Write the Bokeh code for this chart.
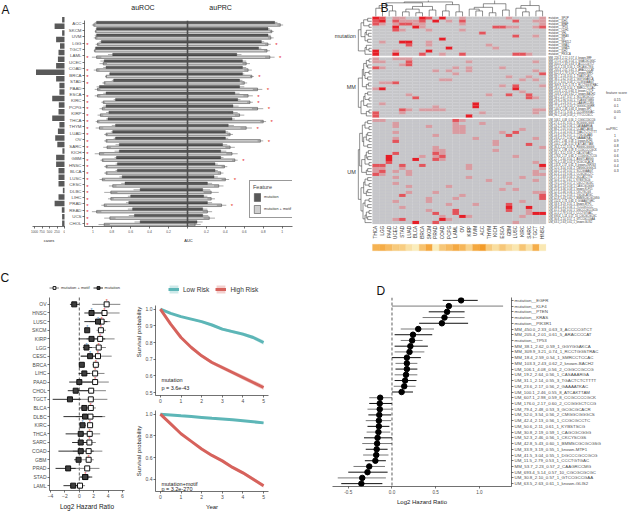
import math
from bokeh.plotting import figure
from bokeh.models import (ColumnDataSource, FactorRange, Range1d, Span, Label, Legend, LegendItem,
                          FixedTicker, CustomJSTickFormatter, NumeralTickFormatter, LinearAxis)
from bokeh.transform import dodge
from bokeh.layouts import row, column
from bokeh.embed import file_html
from bokeh.resources import INLINE
from bokeh.core.properties import value

FONT = "Liberation Sans"

# ---------------- Panel A data ----------------
CATS_A = ["ACC", "SKCM", "UVM", "LGG", "TGCT", "LAML", "UCEC", "COAD", "BRCA", "STAD", "PAAD", "ESCA",
          "KIRC", "PCPG", "KIRP", "THCA", "THYM", "LUAD", "OV", "SARC", "KICH", "GBM", "HNSC", "BLCA",
          "LUSC", "CESC", "DLBC", "LIHC", "PRAD", "READ", "UCS", "CHOL"]
CASES = [80, 330, 80, 280, 150, 200, 220, 280, 950, 280, 170, 170, 410, 190, 200, 410, 170, 220, 310,
         240, 70, 280, 280, 200, 200, 200, 55, 200, 330, 90, 80, 80]
ROC_MUT = [0.96, 0.96, 0.96, 0.91, 0.97, 0.79, 0.88, 0.86, 0.82, 0.78, 0.93, 0.86, 0.76, 0.86, 0.83, 0.84,
           0.76, 0.79, 0.76, 0.72, 0.72, 0.75, 0.74, 0.74, 0.69, 0.66, 0.50, 0.60, 0.62, 0.58, 0.56, 0.50]
ROC_MOTIF = [0.99, 0.97, 0.97, 0.95, 0.98, 0.96, 0.89, 0.96, 0.86, 0.88, 0.95, 0.95, 0.89, 0.90, 0.92, 0.95,
             0.93, 0.86, 0.86, 0.85, 0.93, 0.90, 0.86, 0.86, 0.90, 0.79, 0.81, 0.81, 0.88, 0.96, 0.82, 0.88]
PRC_MUT = [0.92, 0.85, 0.85, 0.78, 0.75, 0.52, 0.58, 0.58, 0.58, 0.55, 0.55, 0.50, 0.53, 0.48, 0.48, 0.47,
           0.43, 0.40, 0.40, 0.37, 0.35, 0.35, 0.29, 0.29, 0.28, 0.21, 0.16, 0.17, 0.21, 0.16, 0.16, 0.10]
PRC_MOTIF = [0.98, 0.89, 0.88, 0.85, 0.84, 0.87, 0.62, 0.64, 0.68, 0.60, 0.74, 0.64, 0.66, 0.74, 0.55, 0.80,
             0.62, 0.45, 0.77, 0.45, 0.47, 0.50, 0.39, 0.35, 0.40, 0.33, 0.25, 0.25, 0.36, 0.21, 0.23, 0.08]
ROC_ERR = [0.02, 0.01, 0.02, 0.02, 0.01, 0.05, 0.04, 0.03, 0.01, 0.02, 0.03, 0.03, 0.02, 0.03, 0.03, 0.02,
           0.04, 0.02, 0.02, 0.04, 0.05, 0.02, 0.02, 0.02, 0.03, 0.04, 0.07, 0.03, 0.03, 0.05, 0.06, 0.06]
PRC_ERR = [0.03, 0.02, 0.03, 0.03, 0.03, 0.05, 0.04, 0.04, 0.02, 0.03, 0.05, 0.05, 0.03, 0.06, 0.05, 0.03,
           0.06, 0.03, 0.03, 0.05, 0.06, 0.03, 0.03, 0.03, 0.04, 0.05, 0.08, 0.04, 0.05, 0.05, 0.06, 0.06]
ROC_SIG = [0, 0, 0, 1, 0, 1, 0, 1, 1, 1, 0, 1, 1, 1, 1, 1, 1, 1, 1, 1, 1, 1, 1, 1, 1, 1, 1, 1, 1, 1, 1, 1]
PRC_SIG = [0, 0, 0, 1, 0, 1, 0, 0, 1, 0, 1, 1, 1, 1, 0, 1, 1, 0, 1, 0, 0, 1, 0, 0, 1, 0, 0, 0, 1, 0, 0, 0]
AUC_TITLES = ["auROC", "auPRC"]

# ---------------- Panel B data ----------------
COLS_B = ["THCA", "LGG", "PAAD", "UCEC", "STAD", "LUAD", "BLCA", "BRCA", "SKCM", "PRAD", "COAD", "PCPG",
          "LAML", "OV", "KIRP", "UVM", "ACC", "THYM", "KICH", "ESCA", "GBM", "LUSC", "KIRC", "SARC",
          "TGCT", "HNSC"]
MUT_LABELS = ["mutation__SPOP", "mutation__IDH1", "mutation__BRAF", "mutation__TP53", "mutation__CDH1",
              "mutation__VHL", "mutation__NRAS", "mutation__KIT", "mutation__NFE2L2", "mutation__GNAQ",
              "mutation__GNA11", "mutation__IDH2", "mutation__PIK3CA"]
MM_LABELS = ["MM_226.3_2.12_0.57_4_known-SRF", "MM_171.0_2.06_0.54_1_GGACGCGGC", "MM_450.0_2.33_0.63_3_ACCCCGTCT",
             "MM_52.4_2.33_0.56_1_CRCAGCTKG", "MM_205.4_2.01_0.61_5_ARACCCCAT", "MM_612.3_2.79_0.56_1_known-NRF1",
             "MM_89.7_2.18_0.55_1_TGASTCAYC", "MM_38.1_2.62_0.59_1_GGYGGAKCA", "MM_47.5_3.01_0.58_2_CCWGGAAGT",
             "MM_309.9_3.21_0.74_1_RCCTGGSTRAC", "MM_18.4_2.59_0.54_1_SMRCCTCCAC", "MM_115.6_2.25_0.60_3_known-CTCF",
             "MM_103.3_2.43_0.62_2_known-BACH2", "MM_64.2_2.47_0.57_1_GCCMCGCCC", "MM_29.6_2.90_0.55_1_YCAGGTGMG",
             "MM_53.7_2.23_0.57_2_CAAGRCCMG", "MM_77.8_2.14_0.53_2_GGGGCGGRR", "MM_140.5_2.36_0.60_4_known-SP1",
             "MM_35.9_2.71_0.56_1_CCCWGGGAC", "MM_96.1_2.08_0.58_2_TTTCCCGCC"]
UM_LABELS = ["UM_106.1_4.08_0.56_2_CGGCCGCCG", "UM_27.4_2.31_0.55_1_GCGGGCGGS", "UM_19.2_2.64_0.56_1_CASAAARGA",
             "UM_88.2_2.05_0.54_2_CCAATCAGM", "UM_31.1_2.14_0.55_3_TGACTCTCTTTT", "UM_14.9_2.92_0.57_1_TTGCGCAAS",
             "UM_23.6_2.17_0.56_2_GAAAATKAC", "UM_245.7_2.66_0.58_5_known-E2F6", "UM_100.1_2.46_0.55_8_ATCAKTTAM",
             "UM_36.3_2.22_0.56_1_RGGGCGGGG", "UM_607.1_2.98_0.59_8_CCGCCCCGCK", "UM_58.1_3.12_0.59_2_CACGTGAYC",
             "UM_176.0_2.17_0.60_2_CCGGGCTCCG", "UM_21.7_2.40_0.54_1_AGGTCAMGG", "UM_79.4_2.48_0.53_3_GCGCGCACR",
             "UM_131.9_2.57_0.61_3_known-ZNF263", "UM_52.0_3.54_0.56_2_CMGGCGGGCS", "UM_44.0_2.18_0.55_1_SCCGGAAGT",
             "UM_42.4_2.13_0.56_1_CCGCGCCTC", "UM_17.3_2.83_0.56_1_GCCATCTTG", "UM_50.6_2.11_0.61_1_KYBSTSCG",
             "UM_70.5_2.29_0.57_2_CGCCTGCGC", "UM_30.8_2.19_0.59_1_CAGCGCGGG", "UM_25.8_3.36_0.58_1_known-KLF15",
             "UM_52.3_2.46_0.56_1_CKCYSCGS", "UM_39.2_2.12_0.53_1_YGCGCATGC", "UM_42.8_5.43_0.60_1_BMMSCGCGCGSG",
             "UM_152.4_2.74_0.60_4_GGAAGTGRC", "UM_33.9_3.19_0.55_1_known-MTF1", "UM_48.6_2.45_0.56_1_TCCCGCCCC",
             "UM_41.5_3.04_0.55_1_DGCCCGCCGCG", "UM_11.5_2.79_0.53_1_CCCTGTGAC", "UM_693.4_5.14_0.57_10_CGCGCGCGC",
             "UM_30.8_2.10_0.57_1_GTCCGCCGAA", "UM_63.5_2.63_0.61_1_known-GLIS2"]
# non-zero feature-score cells per row: (column index, level 1=0.05, 2=0.1, 3=0.15)
MUT_CELLS = [[(0, 3), (1, 2), (3, 1), (4, 1), (7, 3), (8, 2), (10, 3), (13, 1), (20, 1), (25, 1)],
             [(0, 2), (1, 3), (3, 2), (4, 1), (5, 1), (6, 1), (7, 2), (9, 3), (11, 1), (13, 2), (21, 2), (24, 1), (25, 1)],
             [(0, 2), (1, 1), (3, 1), (4, 2), (5, 2), (6, 1), (7, 1), (13, 1), (25, 1)],
             [(3, 3), (6, 3), (7, 1), (18, 2), (19, 2), (20, 1), (21, 1), (24, 1), (25, 2)],
             [(3, 2), (4, 1), (8, 1), (13, 1)],
             [(16, 2)],
             [(21, 2), (24, 1)],
             [(10, 3)],
             [(1, 1), (4, 3), (5, 3), (8, 1)],
             [(5, 2), (8, 1), (17, 1)],
             [(11, 3), (18, 1)],
             [(0, 3), (3, 1), (8, 3)],
             [(0, 3), (3, 3), (7, 2), (10, 1), (13, 2), (21, 2), (22, 2), (23, 1)]]
MM_CELLS = [[(0, 1), (3, 1), (4, 1), (5, 1)],
            [(0, 1), (1, 1), (5, 2), (14, 1), (24, 1)],
            [(4, 1), (5, 2)],
            [(0, 2), (1, 1), (12, 1), (14, 1), (19, 1)],
            [(9, 1), (11, 1), (14, 1), (24, 1)],
            [(12, 1), (25, 2)],
            [(20, 1), (23, 1)],
            [(10, 1), (11, 1), (22, 1), (24, 1)],
            [(1, 1), (2, 1), (3, 2)],
            [(19, 1), (21, 2), (25, 1)],
            [(0, 1), (1, 3), (21, 3)],
            [(22, 1)],
            [(5, 1), (17, 1), (20, 2), (23, 2)],
            [(6, 2), (23, 2), (24, 1)],
            [],
            [(1, 1), (15, 3)],
            [(9, 1), (15, 3)],
            [(4, 2), (5, 1), (7, 1), (8, 1), (9, 1), (10, 1), (24, 1), (25, 1)],
            [(0, 2), (4, 1), (16, 1), (24, 1)],
            [(0, 2), (14, 3)]]
UM_CELLS = [[(0, 1), (1, 1), (12, 2), (13, 1)], [(3, 1), (12, 1), (16, 1)], [(3, 1), (8, 1), (12, 1), (13, 1)],
            [(12, 1), (13, 1), (22, 1)], [(3, 1), (12, 1), (13, 1), (19, 1), (21, 2)], [(9, 1), (20, 2)],
            [(3, 1), (15, 1), (24, 1)], [(3, 2), (18, 1)], [(18, 1), (23, 2)], [(9, 1), (25, 1)],
            [(9, 1), (10, 1), (18, 1)], [(3, 2), (9, 2), (10, 1)], [(2, 3), (7, 1), (9, 1), (10, 2), (21, 1)],
            [(2, 3), (6, 3), (9, 2), (10, 1)], [(2, 2), (24, 1)], [(0, 2), (1, 2), (4, 2), (7, 2), (14, 1), (25, 3)],
            [(0, 1), (1, 1), (4, 1), (14, 1), (25, 1)], [(0, 1), (1, 2), (3, 1), (5, 1), (24, 1)],
            [(0, 2), (1, 1), (5, 1), (24, 1), (25, 1)], [(3, 1), (14, 1), (22, 1)], [(17, 1), (24, 1)],
            [(3, 1), (20, 1)], [(5, 1), (11, 1)], [(19, 1), (21, 1)], [(5, 1), (9, 1), (24, 1), (25, 1)],
            [(4, 2), (13, 1), (25, 2)], [(8, 1), (12, 1), (25, 2)], [(3, 1), (8, 1), (22, 1)],
            [(11, 1), (15, 1), (20, 2)], [(4, 1), (20, 3), (23, 3)], [(8, 1), (12, 2), (20, 2), (23, 1)],
            [(9, 2), (12, 2), (23, 1), (24, 3), (25, 3)], [(10, 1), (13, 3), (14, 1), (22, 1)],
            [(3, 1), (4, 2), (10, 3), (11, 1)], [(6, 3), (9, 2), (21, 1)]]
# dendrogram merge heights between neighbouring leaves
COL_GAPS = [4.5, 6.0, 3.0, 7.5, 2.5, 4.0, 2.0, 5.5, 3.5, 8.0, 3.0, 6.5, 2.5, 9.5, 4.0, 3.0, 5.0, 2.0, 7.0,
            3.5, 10.0, 4.5, 2.5, 6.0, 3.0]
MUT_GAPS = [3, 6, 2, 8, 4, 2.5, 5, 3, 10, 4, 2, 5]
MM_GAPS = [2, 4, 3, 6, 2, 5, 3, 7, 2.5, 4, 10, 3, 5, 2, 6, 3.5, 8, 2, 4]
UM_GAPS = [3, 5, 2, 7, 3, 4, 2, 6, 3, 9, 2.5, 4, 3, 5, 2, 7.5, 3, 4, 10, 3, 5, 2, 6, 3, 4, 8, 2, 5, 3, 6.5,
           2, 4, 3, 5]
SCORE_LEVELS = ["0", "0.05", "0.1", "0.15"]
PRC_LEGEND = [1, 0.9, 0.8, 0.7, 0.6, 0.5, 0.4, 0.3]

# ---------------- Panel C data ----------------
CATS_C = ["OV", "HNSC", "LUSC", "SKCM", "KIRP", "LGG", "CESC", "BRCA", "LIHC", "PAAD", "CHOL", "TGCT",
          "BLCA", "DLBC", "KIRC", "THCA", "SARC", "COAD", "GBM", "PRAD", "STAD", "LAML"]
C_MUT = [-0.7, 1.7, 2.6, 1.1, 1.7, 1.0, 1.5, 0.35, 0.7, 0.0, -0.5, -1.3, 0.7, 0.8, 0.45, 0.2, 0.2, 0.2, -0.1, -1.55, 0.8, -0.85]
C_MUT_LO = [-1.3, 0.7, 0.7, 0.9, -0.1, 0.5, 0.2, 0.1, -0.1, -1.4, -1.6, -3.7, 0.0, -2.2, 0.2, -1.9, -1.0, -2.9, -0.7, -3.3, 0.0, -2.2]
C_MUT_HI = [0.0, 3.2, 3.9, 1.3, 3.6, 1.8, 2.7, 0.6, 1.5, 1.8, 1.4, 0.2, 1.8, 3.2, 0.9, 1.8, 1.4, 2.0, 0.3, -0.5, 1.8, 0.35]
C_MOT = [3.8, 3.5, 3.1, 3.0, 2.9, 2.7, 2.6, 2.3, 2.2, 2.2, 1.65, 1.6, 1.6, 1.55, 1.5, 1.45, 1.4, 1.3, 1.3, 1.1, 0.85, 0.1]
C_MOT_LO = [1.8, 1.6, 1.4, 2.4, 1.0, 1.8, 0.2, 1.8, 1.0, 0.4, -0.1, -0.9, 1.2, -0.5, 1.1, -0.2, 0.4, -0.9, 0.4, -2.0, 0.2, -0.6]
C_MOT_HI = [5.7, 5.6, 4.3, 3.7, 4.9, 3.7, 4.5, 2.8, 3.5, 4.1, 3.7, 3.9, 2.3, 3.6, 1.9, 2.9, 2.3, 3.2, 2.0, 2.8, 1.5, 0.8]
C_MOT_SIG = [1, 1, 1, 1, 1, 1, 1, 1, 1, 1, 0, 0, 1, 0, 1, 1, 1, 0, 1, 0, 1, 0]
C_MUT_SIG = [0, 1, 1, 1, 0, 1, 1, 0, 0, 0, 0, 0, 0, 0, 1, 0, 0, 0, 0, 0, 0, 0]

KM_T = [0, 0.5, 1, 1.5, 2, 2.5, 3, 3.5, 4, 4.5, 5]
KM1_LOW = [1.0, 0.975, 0.955, 0.94, 0.925, 0.905, 0.88, 0.865, 0.85, 0.83, 0.80]
KM1_HIGH = [1.0, 0.91, 0.83, 0.77, 0.72, 0.68, 0.65, 0.62, 0.59, 0.56, 0.53]
KM1_LOW_CI = [0, 0.003, 0.004, 0.005, 0.006, 0.007, 0.008, 0.009, 0.010, 0.011, 0.013]
KM1_HIGH_CI = [0, 0.006, 0.008, 0.009, 0.010, 0.011, 0.012, 0.012, 0.013, 0.014, 0.015]
KM2_LOW = [1.0, 0.993, 0.985, 0.978, 0.97, 0.962, 0.955, 0.948, 0.94, 0.93, 0.92]
KM2_HIGH = [1.0, 0.91, 0.82, 0.75, 0.68, 0.62, 0.57, 0.51, 0.46, 0.40, 0.34]
KM2_LOW_CI = [0, 0.002, 0.003, 0.003, 0.004, 0.004, 0.005, 0.005, 0.006, 0.007, 0.008]
KM2_HIGH_CI = [0, 0.006, 0.008, 0.010, 0.011, 0.012, 0.013, 0.014, 0.015, 0.016, 0.018]

# ---------------- Panel D data ----------------
D_LABELS = ["mutation__EGFR", "mutation__KLF4", "mutation__PTEN", "mutation__KRAS", "mutation__PIK3R1",
            "MM_450.0_2.33_0.63_3_ACCCCGTCT", "MM_205.4_2.01_0.61_5_ARACCCCAT", "mutation__TP53",
            "MM_38.1_2.62_0.59_1_GGYGGAKCA", "MM_309.9_3.21_0.74_1_RCCTGGSTRAC", "MM_18.4_2.59_0.54_1_SMRCCTCCAC",
            "MM_103.3_2.43_0.62_2_known-BACH2", "UM_106.1_4.08_0.56_2_CGGCCGCCG", "UM_19.2_2.64_0.56_1_CASAAARGA",
            "UM_31.1_2.14_0.55_3_TGACTCTCTTTT", "UM_23.6_2.17_0.56_2_GAAAATKAC", "UM_100.1_2.46_0.55_8_ATCAKTTAM",
            "UM_607.1_2.98_0.59_8_CCGCCCCGCK", "UM_176.0_2.17_0.60_2_CCGGGCTCCG", "UM_79.4_2.48_0.53_3_GCGCGCACR",
            "UM_52.0_3.54_0.56_2_CMGGCGGGCS", "UM_42.4_2.13_0.56_1_CCGCGCCTC", "UM_50.6_2.11_0.61_1_KYBSTSCG",
            "UM_30.8_2.19_0.59_1_CAGCGCGGG", "UM_52.3_2.46_0.56_1_CKCYSCGS", "UM_42.8_5.43_0.60_1_BMMSCGCGCGSG",
            "UM_33.9_3.19_0.55_1_known-MTF1", "UM_41.5_3.04_0.55_1_DGCCCGCCGCG", "UM_11.5_2.79_0.53_1_CCCTGTGAC",
            "MM_53.7_2.23_0.57_2_CAAGRCCMG", "UM_693.4_5.14_0.57_10_CGCGCGCGC", "UM_30.8_2.10_0.57_1_GTCCGCCGAA",
            "UM_63.5_2.63_0.61_1_known-GLIS2"]
D_HR = [0.79, 0.65, 0.63, 0.60, 0.57, 0.30, 0.24, 0.23, 0.21, 0.20, 0.17, 0.17, 0.17, 0.16, 0.15, 0.14, 0.11,
        -0.135, -0.14, -0.14, -0.145, -0.15, -0.15, -0.155, -0.165, -0.17, -0.175, -0.18, -0.19, -0.26, -0.28, -0.34, -0.35]
D_LO = [0.58, 0.00, 0.42, 0.35, 0.31, 0.10, 0.03, 0.10, 0.03, 0.03, 0.00, 0.04, 0.04, 0.03, 0.03, 0.02, 0.00,
        -0.26, -0.26, -0.28, -0.27, -0.30, -0.28, -0.29, -0.32, -0.34, -0.30, -0.33, -0.31, -0.44, -0.50, -0.62, -0.58]
D_HI = [0.98, 1.27, 0.83, 0.83, 0.87, 0.48, 0.46, 0.35, 0.41, 0.37, 0.33, 0.29, 0.29, 0.29, 0.28, 0.27, 0.24,
        0.0, 0.0, -0.01, -0.01, -0.01, -0.03, -0.02, 0.0, 0.0, -0.05, -0.04, -0.07, -0.08, -0.05, -0.07, -0.11]


# ---------------- helpers ----------------
def fig(w, h, xr, yr, l, r, t, b, **kw):
    p = figure(width=w, height=h, x_range=xr, y_range=yr, output_backend="svg", toolbar_location=None,
               min_border_left=l, min_border_right=r, min_border_top=t, min_border_bottom=b, **kw)
    p.outline_line_color = None
    p.xgrid.grid_line_color = None
    p.ygrid.grid_line_color = None
    p.background_fill_color = "white"
    p.border_fill_color = "white"
    try:
        p.frame_align = False
    except Exception:
        pass
    return p


def letter(p, text, offset):
    p.title.text = text
    p.title.text_font = FONT
    p.title.text_font_size = "12px"
    p.title.text_font_style = "normal"
    p.title.text_color = "#111111"
    p.title.align = "left"
    p.title.offset = offset
    p.title.standoff = 0


def sty(ax, size="4px", title="5px", lab="#4d4d4d"):
    ax.axis_line_color = "#333333"
    ax.axis_line_width = 0.7
    ax.major_tick_line_color = "#333333"
    ax.major_tick_line_width = 0.7
    ax.major_tick_out = 2
    ax.major_tick_in = 0
    ax.minor_tick_line_color = None
    ax.major_label_text_font = FONT
    ax.major_label_text_font_size = size
    ax.major_label_text_color = lab
    ax.major_label_standoff = 1
    ax.axis_label_text_font = FONT
    ax.axis_label_text_font_size = title
    ax.axis_label_text_font_style = "normal"
    ax.axis_label_text_color = "#1a1a1a"
    ax.axis_label_standoff = 2


def lab(p, text, x, y, size, xu="data", yu="data", align="left", base="middle", color="#222222"):
    p.add_layout(Label(x=x, y=y, x_units=xu, y_units=yu, text=text, text_align=align, text_baseline=base,
                       text_font=FONT, text_font_size=size, text_color=color))


def sty_leg(leg, size, title=None, gw=6, gh=6, lh=6, spacing=0, padding=0, border=None, standoff=3, margin=0):
    leg.label_text_font = FONT
    leg.label_text_font_size = size
    leg.label_text_color = "#333333"
    leg.title_text_font = FONT
    leg.title_text_font_size = title or size
    leg.title_text_font_style = "normal"
    leg.title_standoff = 2
    leg.glyph_width = gw
    leg.glyph_height = gh
    leg.label_height = lh
    leg.spacing = spacing
    leg.padding = padding
    leg.margin = margin
    leg.label_standoff = standoff
    leg.background_fill_alpha = 0
    if border is None:
        leg.border_line_color = None
    else:
        leg.border_line_color = border
        leg.border_line_width = 0.8


def dendro(pos, gaps):
    segs = []

    def rec(lo, hi):
        if lo == hi:
            return pos[lo], 0.0
        k = max(range(lo, hi), key=lambda i: gaps[i])
        h = gaps[k]
        c1, h1 = rec(lo, k)
        c2, h2 = rec(k + 1, hi)
        segs.append((c1, h1, c1, h))
        segs.append((c2, h2, c2, h))
        segs.append((c1, h, c2, h))
        return (c1 + c2) / 2.0, h

    rec(0, len(pos) - 1)
    return segs


def prc_color(v):
    t = max(0.0, min(1.0, (v - 0.3) / 0.7))
    lo, hi = (251, 244, 200), (243, 152, 35)
    c = [int(round(lo[i] + (hi[i] - lo[i]) * t)) for i in range(3)]
    return "#%02x%02x%02x" % tuple(c)


# ================= Panel A =================
yA = FactorRange(factors=CATS_A[::-1])
pc = fig(65, 268, Range1d(1067, -33), yA, 32, 0, 15, 42, y_axis_location=None)
pc.hbar(y=CATS_A, left=0, right=CASES, height=0.84, fill_color="#595959", line_color=None)
pc.xaxis.ticker = FixedTicker(ticks=[0, 250, 500, 750, 1000])
pc.xaxis.axis_label = "cases"
sty(pc.xaxis, "3.2px", "4px")
letter(pc, "A", -31)

srcA = ColumnDataSource(dict(
    cat=CATS_A,
    rm=[-v for v in ROC_MUT], rmo=[-v for v in ROC_MOTIF], pm=PRC_MUT, pmo=PRC_MOTIF,
    rm0=[-(v - e) for v, e in zip(ROC_MUT, ROC_ERR)], rm1=[-(v + e) for v, e in zip(ROC_MUT, ROC_ERR)],
    ro0=[-(v - e) for v, e in zip(ROC_MOTIF, ROC_ERR)], ro1=[-(v + e) for v, e in zip(ROC_MOTIF, ROC_ERR)],
    pm0=[v - e for v, e in zip(PRC_MUT, PRC_ERR)], pm1=[v + e for v, e in zip(PRC_MUT, PRC_ERR)],
    po0=[v - e for v, e in zip(PRC_MOTIF, PRC_ERR)], po1=[v + e for v, e in zip(PRC_MOTIF, PRC_ERR)],
))
pa = fig(232, 268, Range1d(-1.088, 1.109), yA, 15, 5, 15, 42)
yu = dodge("cat", 0.2, range=yA)
yl = dodge("cat", -0.2, range=yA)
DARK, LIGHT = "#595959", "#cfcfcf"
r_mut = pa.hbar(y=yu, left="rm", right=0, height=0.4, source=srcA, fill_color=DARK, line_color="#333333", line_width=0.4)
pa.hbar(y=yu, left=0, right="pm", height=0.4, source=srcA, fill_color=DARK, line_color="#333333", line_width=0.4)
r_mot = pa.hbar(y=yl, left="rmo", right=0, height=0.4, source=srcA, fill_color=LIGHT, line_color="#333333", line_width=0.5)
pa.hbar(y=yl, left=0, right="pmo", height=0.4, source=srcA, fill_color=LIGHT, line_color="#333333", line_width=0.5)
for a, b, yy in [("rm0", "rm1", yu), ("ro0", "ro1", yl), ("pm0", "pm1", yu), ("po0", "po1", yl)]:
    pa.segment(x0=a, x1=b, y0=yy, y1=yy, source=srcA, line_color="#555555", line_width=0.5)
pa.add_layout(Span(location=0, dimension="height", line_color="#4d4d4d", line_width=1.6))
rs = [c for c, s in zip(CATS_A, ROC_SIG) if s]
pa.text(x=[-1.057] * len(rs), y=rs, text=["*"] * len(rs), text_color="#e41a1c", text_font=value(FONT),
        text_font_size=value("6px"), text_align="center", text_baseline="middle", y_offset=2)
ps = [(c, v + e + 0.06) for c, v, e, s in zip(CATS_A, PRC_MOTIF, PRC_ERR, PRC_SIG) if s]
pa.text(x=[q[1] for q in ps], y=[q[0] for q in ps], text=["*"] * len(ps), text_color="#e41a1c",
        text_font=value(FONT), text_font_size=value("6px"), text_align="center", text_baseline="middle", y_offset=2)
pa.xaxis.ticker = FixedTicker(ticks=[-1, -0.8, -0.6, -0.4, -0.2, 0, 0.2, 0.4, 0.6, 0.8, 1])
pa.xaxis.formatter = CustomJSTickFormatter(
    code="if (Math.abs(tick) < 1e-9) { return ''; } return String(Math.round(Math.abs(tick) * 10) / 10);")
pa.xaxis.axis_label = "AUC"
sty(pa.xaxis, "3.4px", "4px")
sty(pa.yaxis, "4.4px")
top_ax = LinearAxis(ticker=FixedTicker(ticks=[-0.47, 0.35]),
                    formatter=CustomJSTickFormatter(args=dict(t=AUC_TITLES), code="return tick < 0 ? t[0] : t[1];"))
top_ax.axis_line_color = None
top_ax.major_tick_line_color = None
top_ax.minor_tick_line_color = None
top_ax.major_label_text_font = FONT
top_ax.major_label_text_font_size = "7px"
top_ax.major_label_text_color = "#222222"
top_ax.major_label_standoff = 4
pa.add_layout(top_ax, "above")
legA = Legend(items=[LegendItem(label="mutation", renderers=[r_mut]),
                     LegendItem(label="mutation + motif", renderers=[r_mot])],
              title="Feature", location=(165, 8))
sty_leg(legA, "3.8px", "5.5px", gw=8, gh=10, lh=10, spacing=2, padding=3, border="#333333", standoff=3)
pa.add_layout(legA)

# ================= Panel B =================
XB0, XB1 = -11.24, 38.38
YB0, YB1 = -83.9, 5.43
pb = fig(331, 268, Range1d(XB0, XB1), Range1d(YB0, YB1), 0, 0, 0, 0, x_axis_location=None, y_axis_location=None)
LEVEL_COL = ["#c7c7ca", "#d99ca1", "#e3545b", "#e61e27"]
GAP = 0.55
groups = [("mutation", MUT_LABELS, MUT_CELLS, MUT_GAPS), ("MM", MM_LABELS, MM_CELLS, MM_GAPS),
          ("UM", UM_LABELS, UM_CELLS, UM_GAPS)]
hx, hy, hc = [], [], []
lab_y, lab_t = [], []
dx0, dy0, dx1, dy1 = [], [], [], []
gname, gy = [], []
start = 0.0
for name, labels, cells, gaps in groups:
    n = len(labels)
    ys = [-(start + k + 0.5) for k in range(n)]
    for k in range(n):
        lv = [0] * len(COLS_B)
        for c, l in cells[k]:
            lv[c] = l
        for c in range(len(COLS_B)):
            hx.append(c + 0.5)
            hy.append(ys[k])
            hc.append(LEVEL_COL[lv[c]])
    lab_y += ys
    lab_t += labels
    for (a0, h0, a1, h1) in dendro(ys, gaps):
        dx0.append(-0.12 - h0 * 0.2)
        dx1.append(-0.12 - h1 * 0.2)
        dy0.append(a0)
        dy1.append(a1)
    gname.append(name)
    gy.append(sum(ys) / n)
    start += n + GAP
total = start - GAP
pb.rect(x=hx, y=hy, width=1, height=1, fill_color=hc, line_color=hc, line_width=0.2)
colpos = [c + 0.5 for c in range(len(COLS_B))]
for (a0, h0, a1, h1) in dendro(colpos, COL_GAPS):
    dx0.append(a0)
    dx1.append(a1)
    dy0.append(0.15 + h0 * 0.6)
    dy1.append(0.15 + h1 * 0.6)
pb.segment(x0=dx0, y0=dy0, x1=dx1, y1=dy1, line_color="#444444", line_width=0.6)
pb.text(x=[len(COLS_B) + 0.4] * len(lab_t), y=lab_y, text=lab_t, text_font=value(FONT),
        text_font_size=value("2.6px"), text_color="#333333", text_align="left", text_baseline="middle")
pb.text(x=[-2.5] * 3, y=gy, text=gname, text_font=value(FONT), text_font_size=value("5.5px"),
        text_color="#333333", text_align="right", text_baseline="middle")
pb.text(x=colpos, y=[-(total + 0.6)] * len(COLS_B), text=COLS_B, angle=math.pi / 2, text_font=value(FONT),
        text_font_size=value("4.6px"), text_color="#333333", text_align="right", text_baseline="middle")
prc_lookup = dict(zip(CATS_A, PRC_MOTIF))
bar_cols = [prc_color(prc_lookup[c]) for c in COLS_B]
pb.rect(x=colpos, y=[-(total + 7.8)] * len(COLS_B), width=1, height=2.2, fill_color=bar_cols,
        line_color=bar_cols, line_width=0.2)
pb.text(x=[1.2], y=[YB1 - 0.3], text=["B"], text_font=value(FONT), text_font_size=value("12px"),
        text_color="#111111", text_align="left", text_baseline="top")
fs_items = []
for lv in [3, 2, 1, 0]:
    r = pb.rect(x=[], y=[], width=1, height=1, fill_color=LEVEL_COL[lv], line_color=None)
    fs_items.append(LegendItem(label=SCORE_LEVELS[lv], renderers=[r]))
legB1 = Legend(items=fs_items, title="feature score", location=(309, 148))
sty_leg(legB1, "3.4px", "3.6px", gw=5, gh=5, lh=5, spacing=1, padding=0, standoff=3)
pb.add_layout(legB1)
pr_items = []
for v in PRC_LEGEND:
    r = pb.rect(x=[], y=[], width=1, height=1, fill_color=prc_color(v), line_color=None)
    pr_items.append(LegendItem(label=("%g" % v), renderers=[r]))
legB2 = Legend(items=pr_items, title="auPRC", location=(309, 95))
sty_leg(legB2, "3.4px", "3.6px", gw=5, gh=5, lh=5, spacing=0, padding=0, standoff=3)
pb.add_layout(legB2)

# ================= Panel C (forest) =================
nC = len(CATS_C)
yC = [nC - i for i in range(nC)]
pcf = fig(132, 244, Range1d(-4.14, 6.28), Range1d(0.44, 24.3), 49, 8, 15, 20)
srcC = ColumnDataSource(dict(y=yC, mut=C_MUT, mlo=C_MUT_LO, mhi=C_MUT_HI, mot=C_MOT, olo=C_MOT_LO, ohi=C_MOT_HI))
pcf.segment(x0=[0], x1=[0], y0=[0.44], y1=[nC + 0.8], line_color="#333333", line_width=0.8, line_dash="3 2")
r_oseg = pcf.segment(x0="olo", x1="ohi", y0="y", y1="y", source=srcC, line_color="#777777", line_width=0.9)
r_mseg = pcf.segment(x0="mlo", x1="mhi", y0="y", y1="y", source=srcC, line_color="#1a1a1a", line_width=0.9)
r_osq = pcf.scatter(x="mot", y="y", source=srcC, marker="square", size=5, fill_color="white",
                    line_color="#111111", line_width=1)
r_msq = pcf.scatter(x="mut", y="y", source=srcC, marker="square", size=5, fill_color="#3d3d3d",
                    line_color="#111111", line_width=1)
so = [(yy, v) for yy, v, s in zip(yC, C_MOT, C_MOT_SIG) if s]
pcf.text(x=[q[1] for q in so], y=[q[0] for q in so], text=["*"] * len(so), text_color="#e41a1c",
         text_font=value(FONT), text_font_size=value("5px"), text_align="center", text_baseline="middle", y_offset=-3)
sm = [(yy, v) for yy, v, s in zip(yC, C_MUT, C_MUT_SIG) if s]
pcf.text(x=[q[1] for q in sm], y=[q[0] for q in sm], text=["*"] * len(sm), text_color="#377eb8",
         text_font=value(FONT), text_font_size=value("5px"), text_align="center", text_baseline="middle", y_offset=-3)
pcf.xaxis.ticker = FixedTicker(ticks=[-4, -2, 0, 2, 4, 6])
pcf.xaxis.axis_label = "Log2 Hazard Ratio"
pcf.yaxis.ticker = FixedTicker(ticks=yC)
pcf.yaxis.major_label_overrides = {yy: c for yy, c in zip(yC, CATS_C)}
pcf.yaxis.bounds = (0.44, nC + 0.8)
sty(pcf.xaxis, "5px", "6.5px")
sty(pcf.yaxis, "5px")
legC = Legend(items=[LegendItem(label="mutation + motif", renderers=[r_oseg, r_osq]),
                     LegendItem(label="mutation", renderers=[r_mseg, r_msq])],
              location=(0, 199), orientation="horizontal")
sty_leg(legC, "4px", gw=10, gh=7, lh=7, spacing=3, padding=0, standoff=2)
pcf.add_layout(legC)
letter(pcf, "C", -49)

# ================= Panel C (survival) =================
TEAL, RED = "#5db6b7", "#d6625c"


def km(p, low, high, low_ci, high_ci):
    a1 = p.varea(x=KM_T, y1=[v - e for v, e in zip(low, low_ci)], y2=[v + e for v, e in zip(low, low_ci)],
                 fill_color=TEAL, fill_alpha=0.3)
    l1 = p.line(KM_T, low, line_color=TEAL, line_width=3)
    a2 = p.varea(x=KM_T, y1=[v - e for v, e in zip(high, high_ci)], y2=[v + e for v, e in zip(high, high_ci)],
                 fill_color=RED, fill_alpha=0.3)
    l2 = p.line(KM_T, high, line_color=RED, line_width=3)
    return (a1, l1), (a2, l2)


pk1 = fig(140, 139, Range1d(-0.236, 5.24), Range1d(0.482, 1.244), 20, 4, 0, 12)
(lowr, highr) = km(pk1, KM1_LOW, KM1_HIGH, KM1_LOW_CI, KM1_HIGH_CI)
pk1.xaxis.ticker = FixedTicker(ticks=[0, 1, 2, 3, 4, 5])
pk1.yaxis.ticker = FixedTicker(ticks=[0.5, 0.6, 0.7, 0.8, 0.9, 1.0])
pk1.yaxis.formatter = NumeralTickFormatter(format="0.0")
pk1.yaxis.bounds = (0.482, 1.022)
pk1.yaxis.axis_label = "Survival probability"
sty(pk1.xaxis, "5px", "6px")
sty(pk1.yaxis, "5px", "6px")
pk1.yaxis.axis_label_standoff = 1
lab(pk1, "mutation", 0.05, 0.575, "5.5px")
lab(pk1, "p = 3.6e-43", 0.05, 0.527, "5.5px")
legK = Legend(items=[LegendItem(label="Low Risk", renderers=list(lowr)),
                     LegendItem(label="High Risk", renderers=list(highr))],
              location=(13, 101), orientation="horizontal")
sty_leg(legK, "6.5px", gw=11, gh=10, lh=10, spacing=6, padding=0, standoff=4)
pk1.add_layout(legK)

pk2 = fig(140, 105, Range1d(-0.236, 5.24), Range1d(0.288, 1.034), 20, 4, 3, 20)
km(pk2, KM2_LOW, KM2_HIGH, KM2_LOW_CI, KM2_HIGH_CI)
pk2.xaxis.ticker = FixedTicker(ticks=[0, 1, 2, 3, 4, 5])
pk2.yaxis.ticker = FixedTicker(ticks=[0.4, 0.6, 0.8, 1.0])
pk2.yaxis.formatter = NumeralTickFormatter(format="0.0")
pk2.yaxis.axis_label = "Survival probability"
pk2.xaxis.axis_label = "Year"
sty(pk2.xaxis, "5px", "6px")
sty(pk2.yaxis, "5px", "6px")
pk2.yaxis.axis_label_standoff = 1
lab(pk2, "mutation+motif", 0.05, 0.36, "5.5px")
lab(pk2, "p = 3.2e-270", 0.05, 0.315, "5.5px")

# ================= Panel D =================
yD = FactorRange(factors=D_LABELS[::-1])
pdd = fig(356, 244, Range1d(-0.68, 1.366), yD, 60, 117, 29, 26, y_axis_location="right")
pdd.add_layout(Span(location=0, dimension="height", line_color="#333333", line_width=0.8, line_dash="3 2"))
dcol = ["#111111" if i % 2 == 0 else "#7a7a7a" for i in range(len(D_LABELS))]
srcD = ColumnDataSource(dict(lab=D_LABELS, hr=D_HR, lo=D_LO, hi=D_HI, col=dcol))
pdd.segment(x0="lo", x1="hi", y0="lab", y1="lab", source=srcD, line_color="col", line_width=1)
pdd.scatter(x="hr", y="lab", source=srcD, marker="circle", size=5.5, fill_color="#000000", line_color="#000000")
pdd.xaxis.ticker = FixedTicker(ticks=[-0.5, 0, 0.5, 1.0])
pdd.xaxis.formatter = NumeralTickFormatter(format="0.0")
pdd.xaxis.axis_label = "Log2 Hazard Ratio"
sty(pdd.xaxis, "4.6px", "6px")
sty(pdd.yaxis, "4.4px")
letter(pdd, "D", 44)

layout = column(row(pc, pa, pb, spacing=0),
                row(pcf, column(pk1, pk2, spacing=0), pdd, spacing=0), spacing=0)

open("out.html", "w").write(file_html(layout, INLINE))
